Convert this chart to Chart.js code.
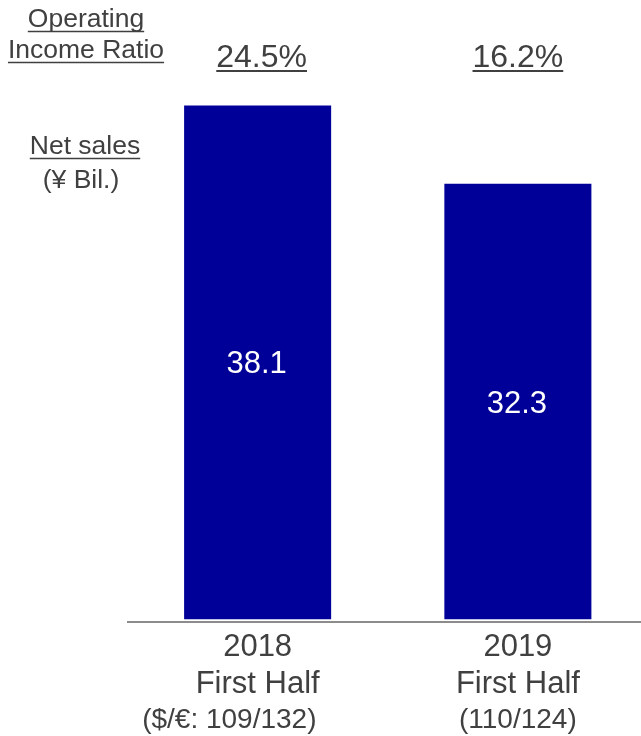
<!DOCTYPE html>
<html>
<head>
<meta charset="utf-8">
<script src="https://cdn.jsdelivr.net/npm/chart.js@4"></script>
<style>
  html, body { margin: 0; padding: 0; background: #fff; overflow: hidden; }
  #wrap { width: 648px; height: 736px; }
</style>
</head>
<body>
<div id="wrap"><canvas id="salesChart" width="648" height="736"></canvas></div>
<script>
const years = ['2018', '2019'];
const periodName = 'First Half';
const rateLabels = ['($/€: 109/132)', '(110/124)'];
const netSales = [38.1, 32.3];
const opIncomeRatio = [24.5, 16.2];

const FONT = '"Liberation Sans", Arial, sans-serif';
const TEXT = '#404040';

// text with a line under it, centred on x
function underlined(ctx, str, x, y, size, lw) {
    ctx.font = size + 'px ' + FONT;
    ctx.textAlign = 'center';
    ctx.textBaseline = 'alphabetic';
    ctx.fillStyle = TEXT;
    ctx.fillText(str, x, y);
    const w = ctx.measureText(str).width;
    ctx.strokeStyle = TEXT;
    ctx.lineWidth = lw;
    ctx.beginPath();
    ctx.moveTo(x - w / 2, y + 4.5);
    ctx.lineTo(x + w / 2, y + 4.5);
    ctx.stroke();
}

const labelsPlugin = {
    id: 'labels',
    afterDraw(chart) {
        const ctx = chart.ctx;
        const xs = chart.scales.x;
        const meta = chart.getDatasetMeta(0);
        ctx.save();

        // left side headings
        underlined(ctx, 'Operating', 86, 27, 26.5, 1.5);
        underlined(ctx, 'Income Ratio', 86, 58, 26.5, 1.5);
        underlined(ctx, 'Net sales', 85, 154, 26.5, 1.5);
        ctx.font = '26.5px ' + FONT;
        ctx.fillStyle = TEXT;
        ctx.textAlign = 'center';
        ctx.fillText('(¥ Bil.)', 81, 188);

        years.forEach((yr, i) => {
            const cx = xs.getPixelForValue(i);

            // operating income ratio above each bar
            underlined(ctx, opIncomeRatio[i].toFixed(1) + '%', cx + (i === 0 ? 4 : 0), 66.5, 32, 2);

            // value inside the bar
            const bar = meta.data[i];
            const mid = (bar.y + bar.base) / 2;
            ctx.font = '31px ' + FONT;
            ctx.fillStyle = '#ffffff';
            ctx.textAlign = 'center';
            ctx.fillText(netSales[i].toFixed(1), cx - 1, mid + 11);

            // category labels under the axis
            ctx.fillStyle = TEXT;
            ctx.font = '31px ' + FONT;
            ctx.fillText(yr, cx, 656);
            ctx.fillText(periodName, cx, 692.5);
            ctx.font = '28px ' + FONT;
            const half = ctx.measureText(rateLabels[1]).width / 2;
            ctx.textAlign = 'right';
            ctx.fillText(rateLabels[i], cx + half, 728);
        });
        ctx.restore();
    }
};

new Chart(document.getElementById('salesChart'), {
    type: 'bar',
    data: {
        labels: years,
        datasets: [{
            data: netSales,
            backgroundColor: '#000099',
            borderWidth: 0,
            categoryPercentage: 1,
            barPercentage: 0.565
        }]
    },
    options: {
        responsive: false,
        animation: false,
        events: [],
        layout: { padding: { left: 127.5, right: 0, top: 80, bottom: 114 } },
        plugins: {
            legend: { display: false },
            tooltip: { enabled: false },
            title: { display: false }
        },
        scales: {
            x: {
                grid: { display: false, drawTicks: false },
                ticks: { display: false },
                border: { display: true, color: '#8c8c8c', width: 2 }
            },
            y: {
                display: false,
                min: -0.2,
                max: 40
            }
        }
    },
    plugins: [labelsPlugin]
});
</script>
</body>
</html>
